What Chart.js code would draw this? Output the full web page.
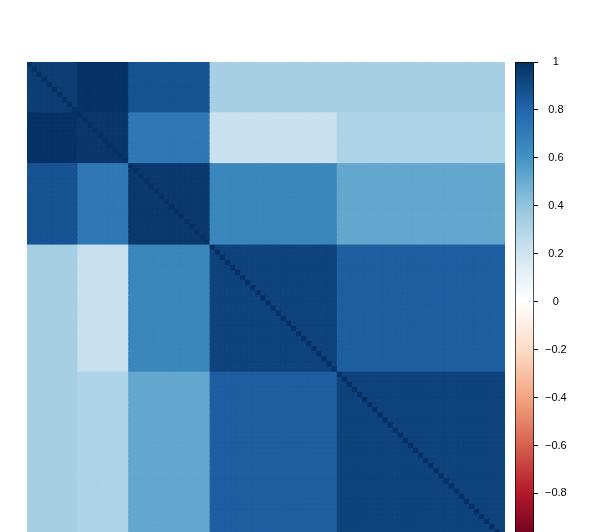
<!DOCTYPE html>
<html>
<head>
<meta charset="utf-8">
<script src="https://cdn.jsdelivr.net/npm/chart.js@4/dist/chart.umd.min.js"></script>
<style>
    body { margin: 0; background: #fff; overflow: hidden; }
    #wrap { position: relative; width: 598px; height: 560px; }
    #wrap canvas { position: absolute; left: 0; top: 0; }
</style>
</head>
<body>
<div id="wrap">
    <canvas id="heatmap" width="598" height="560"></canvas>
    <canvas id="colorbar" width="598" height="560"></canvas>
</div>
<script>
// --- Data: block-structured correlation matrix ---
const groupSizes = [10, 10, 16, 25, 33];
const blockCor = [
    [0.95, 0.99, 0.87, 0.335, 0.335],
    [0.99, 0.975, 0.72, 0.225, 0.315],
    [0.87, 0.72, 0.965, 0.655, 0.52],
    [0.335, 0.225, 0.655, 0.93, 0.83],
    [0.335, 0.315, 0.52, 0.83, 0.93]
];
const diagValue = 1;

// colour key
const paletteStops = [-1, -0.8, -0.6, -0.4, -0.2, 0, 0.2, 0.4, 0.6, 0.8, 1];
const paletteColors = ['#67001F', '#B2182B', '#D6604D', '#F4A582', '#FDDBC7', '#FFFFFF',
                       '#D1E5F0', '#92C5DE', '#4393C3', '#2166AC', '#053061'];
const keyTicks = [-1, -0.8, -0.6, -0.4, -0.2, 0, 0.2, 0.4, 0.6, 0.8, 1];

// group index of every variable
const groupOf = [];
groupSizes.forEach((size, g) => { for (let k = 0; k < size; k++) groupOf.push(g); });
const n = groupOf.length;

// one point per cell, centred in the cell
const cells = [];
for (let i = 0; i < n; i++) {
    for (let j = 0; j < n; j++) {
        const v = i === j ? diagValue : blockCor[groupOf[i]][groupOf[j]];
        cells.push({ x: j + 0.5, y: i + 0.5, v: v });
    }
}

function hexToRgb(h) {
    return [parseInt(h.slice(1, 3), 16), parseInt(h.slice(3, 5), 16), parseInt(h.slice(5, 7), 16)];
}

function colorFor(v) {
    for (let k = 0; k < paletteStops.length - 1; k++) {
        if (v <= paletteStops[k + 1]) {
            const t = (v - paletteStops[k]) / (paletteStops[k + 1] - paletteStops[k]);
            const a = hexToRgb(paletteColors[k]), b = hexToRgb(paletteColors[k + 1]);
            const c = a.map((x, m) => Math.round(x + (b[m] - x) * t));
            return 'rgb(' + c.join(',') + ')';
        }
    }
    return paletteColors[paletteColors.length - 1];
}

function fmt(v) {
    const r = Math.round(v * 10) / 10;
    if (r === 0) return '0';
    return r < 0 ? '\u2212' + Math.abs(r) : String(r);
}

Chart.defaults.font.family = '"Liberation Sans", Arial, sans-serif';

// --- Heatmap ---
new Chart(document.getElementById('heatmap'), {
    type: 'scatter',
    data: {
        datasets: [{
            data: cells,
            pointStyle: 'rect',
            pointBackgroundColor: c => colorFor(c.raw.v),
            pointBorderColor: c => colorFor(c.raw.v),
            pointBorderWidth: 1,
            pointRadius: c => {
                const s = c.chart.scales.x;
                return Math.abs(s.getPixelForValue(1) - s.getPixelForValue(0)) / Math.SQRT2;
            }
        }]
    },
    options: {
        responsive: false,
        animation: false,
        events: [],
        layout: { padding: { left: 27, top: 62, right: 93, bottom: 20 } },
        scales: {
            x: { type: 'linear', min: 0, max: n, display: false },
            y: { type: 'linear', min: 0, max: n, reverse: true, display: false }
        },
        plugins: { legend: { display: false }, tooltip: { enabled: false } }
    }
});

// --- Colour key ---
new Chart(document.getElementById('colorbar'), {
    type: 'bar',
    data: {
        labels: [''],
        datasets: [{
            data: [[keyTicks[0], keyTicks[keyTicks.length - 1]]],
            backgroundColor: c => {
                const chart = c.chart;
                if (!chart.chartArea) return null;
                const y = chart.scales.y;
                const g = chart.ctx.createLinearGradient(0, y.getPixelForValue(-1), 0, y.getPixelForValue(1));
                paletteStops.forEach((s, k) => g.addColorStop((s + 1) / 2, paletteColors[k]));
                return g;
            },
            borderColor: '#000',
            borderWidth: 1,
            borderSkipped: false,
            barPercentage: 1,
            categoryPercentage: 1
        }]
    },
    options: {
        responsive: false,
        animation: false,
        events: [],
        layout: { padding: { left: 515, top: 62, right: 0, bottom: 18.6 } },
        scales: {
            x: { display: false },
            y: {
                position: 'right',
                min: -1,
                max: 1,
                afterFit: s => { s.width = 64; },
                afterBuildTicks: s => { s.ticks = keyTicks.map(v => ({ value: v })); },
                ticks: {
                    callback: v => fmt(v),
                    color: '#000',
                    font: { size: 11 },
                    crossAlign: 'center',
                    padding: 7
                },
                grid: { drawOnChartArea: false, tickLength: 4, color: '#000' },
                border: { display: false }
            }
        },
        plugins: { legend: { display: false }, tooltip: { enabled: false } }
    }
});
</script>
</body>
</html>
